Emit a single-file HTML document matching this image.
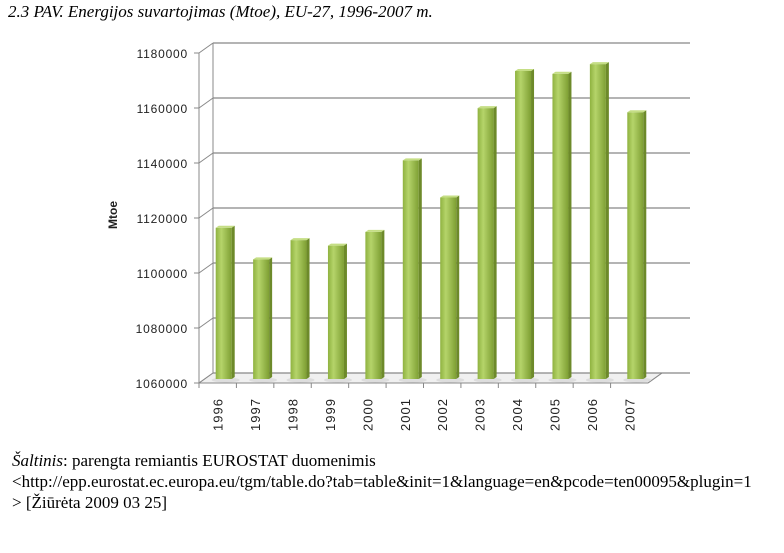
<!DOCTYPE html>
<html><head><meta charset="utf-8"><style>
body{margin:0;width:784px;height:553px;background:#fff;overflow:hidden;position:relative;font-family:"Liberation Serif",serif}
.t{position:absolute;left:8px;top:2px;font-style:italic;font-size:17px;color:#000;white-space:nowrap}
.s{position:absolute;left:12px;font-size:17px;white-space:nowrap;color:#000}
</style></head><body>
<div class="t">2.3 PAV. Energijos suvartojimas (Mtoe), EU-27, 1996-2007 m.</div>
<svg id="c" width="784" height="553" style="position:absolute;left:0;top:0">
<defs>
<linearGradient id="g" x1="0" x2="1"><stop offset="0" stop-color="#8fb240"/><stop offset="0.35" stop-color="#b5d46a"/><stop offset="1" stop-color="#7e9f33"/></linearGradient>
</defs>
</svg>
<div class="s" style="top:451px"><i>Šaltinis</i>: parengta remiantis EUROSTAT duomenimis</div>
<div class="s" style="top:472px">&lt;http://epp.eurostat.ec.europa.eu/tgm/table.do?tab=table&amp;init=1&amp;language=en&amp;pcode=ten00095&amp;plugin=1</div>
<div class="s" style="top:493px">&gt; [Žiūrėta 2009 03 25]</div>
<script>
const categories=["1996","1997","1998","1999","2000","2001","2002","2003","2004","2005","2006","2007"];
const values=[1115000,1103500,1110500,1108500,1113500,1139500,1126000,1158500,1172000,1171000,1174500,1157000];
const ticks=[1060000,1080000,1100000,1120000,1140000,1160000,1180000];
const NS="http://www.w3.org/2000/svg",svg=document.getElementById("c");
const x0=199,x1=648,yb=383,yt=53,dx=14,dy=-10,vmin=1060000,vmax=1180000;
const Y=v=>yb-(v-vmin)/(vmax-vmin)*(yb-yt);
const bw=(x1-x0)/categories.length;
function el(t,a,p){const e=document.createElementNS(NS,t);for(const k in a)e.setAttribute(k,a[k]);(p||svg).appendChild(e);return e;}
el("polygon",{points:`${x0},${yb} ${x1},${yb} ${x1+dx},${yb+dy} ${x0+dx},${yb+dy}`,fill:"#f0f0f0",stroke:"#aaa"});
ticks.forEach(v=>{const y=Y(v);
 const l=el("line",{x1:x0+dx,y1:y+dy,x2:690,y2:y+dy,stroke:"#888","stroke-width":1.2});
 
 
 el("line",{x1:x0,y1:y,x2:x0+dx,y2:y+dy,stroke:"#888"});
 el("line",{x1:x0-5,y1:y,x2:x0,y2:y,stroke:"#888"});
 const t=el("text",{x:x0-11,y:y+5,"text-anchor":"end","font-family":"Liberation Sans,sans-serif","font-size":12,"letter-spacing":0.8,fill:"#222"});
 t.textContent=v;
 
 
});
el("line",{x1:x0+dx,y1:yt+dy,x2:x0+dx,y2:yb+dy,stroke:"#888"});
el("line",{x1:x0,y1:yt,x2:x0,y2:yb,stroke:"#888"});
el("line",{x1:x0,y1:yb,x2:x1,y2:yb,stroke:"#888"});
el("line",{x1:x1,y1:yb,x2:x1+dx,y2:yb+dy,stroke:"#888"});
categories.forEach((c,i)=>{
 const cx=x0+bw*(i+0.5)+6, w=16, top=Y(values[i])-4, bot=yb-4;
 el("line",{x1:x0+bw*i,y1:yb,x2:x0+bw*i,y2:yb+5,stroke:"#888"});
 el("ellipse",{cx:cx+2,cy:bot+1,rx:14,ry:2.5,fill:"#ddd"});
 const r=el("rect",{x:cx-w/2,y:top,width:w,height:bot-top,fill:"url(#g)"});
 
 
 el("polygon",{points:`${cx+w/2},${top} ${cx+w/2+3},${top-2} ${cx+w/2+3},${bot-2} ${cx+w/2},${bot}`,fill:"#6d8a2a"});
 el("polygon",{points:`${cx-w/2},${top} ${cx-w/2+3},${top-2} ${cx+w/2+3},${top-2} ${cx+w/2},${top}`,fill:"#c5de85"});
 const t=el("text",{transform:`translate(${x0+bw*(i+0.5)+5},${431}) rotate(-90)`,"font-family":"Liberation Sans,sans-serif","font-size":13,"letter-spacing":1,fill:"#222"});
 t.textContent=c;
 
 
});
const yl=el("text",{transform:"translate(117,229) rotate(-90)","font-family":"Liberation Sans,sans-serif","font-size":12,"font-weight":"bold",fill:"#222"});
yl.textContent="Mtoe";


</script>
</body></html>
